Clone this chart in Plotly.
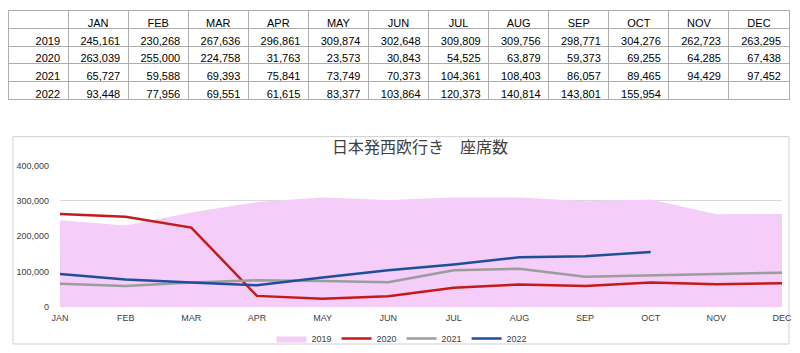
import plotly.graph_objects as go

months = ["JAN", "FEB", "MAR", "APR", "MAY", "JUN", "JUL", "AUG", "SEP", "OCT", "NOV", "DEC"]
years = ["2019", "2020", "2021", "2022"]
s2019 = [245161, 230268, 267636, 296861, 309874, 302648, 309809, 309756, 298771, 304276, 262723, 263295]
s2020 = [263039, 255000, 224758, 31763, 23573, 30843, 54525, 63879, 59373, 69255, 64285, 67438]
s2021 = [65727, 59588, 69393, 75841, 73749, 70373, 104361, 108403, 86057, 89465, 94429, 97452]
s2022 = [93448, 77956, 69551, 61615, 83377, 103864, 120373, 140814, 143801, 155954, None, None]
title_text = "日本発西欧行き　座席数"

series = [s2019, s2020, s2021, s2022]

W, H = 800, 353


def px_x(x):
    return x / W


def px_y(y):
    return 1 - y / H


fmt = lambda v: "" if v is None else f"{v:,}"
cell_cols = [years] + [[fmt(s[i]) for s in series] for i in range(len(months))]

fig = go.Figure()

fig.add_trace(go.Table(
    domain=dict(x=[px_x(8), px_x(789)], y=[px_y(102), px_y(10.5)]),
    columnwidth=[1] * 13,
    header=dict(values=[""] + months, height=17.8, align="center",
                fill_color="white", line=dict(color="#ADADAD", width=1),
                font=dict(family="Liberation Sans", size=11, color="#000000")),
    cells=dict(values=cell_cols, height=17.8, align="right",
               fill_color="white", line=dict(color="#ADADAD", width=1),
               font=dict(family="Liberation Sans", size=11, color="#000000")),
))

fig.add_trace(go.Scatter(x=months, y=s2019, name="2019", mode="lines",
                         fill="tozeroy", fillcolor="#F4CDF8",
                         line=dict(width=0, color="#F4CDF8")))
fig.add_trace(go.Scatter(x=months, y=s2020, name="2020", mode="lines",
                         line=dict(width=2.5, color="#C41A1A")))
fig.add_trace(go.Scatter(x=months, y=s2021, name="2021", mode="lines",
                         line=dict(width=2.5, color="#9C9C9C")))
fig.add_trace(go.Scatter(x=months, y=s2022, name="2022", mode="lines",
                         line=dict(width=2.5, color="#1F4E9A")))

fig.update_layout(
    width=W, height=H,
    margin=dict(l=0, r=0, t=0, b=0),
    paper_bgcolor="white", plot_bgcolor="rgba(0,0,0,0)",
    font=dict(family="Liberation Sans", size=9, color="#404040"),
    title=dict(text=title_text, x=px_x(420), y=px_y(147), xanchor="center", yanchor="middle",
               xref="paper", yref="container",
               font=dict(family="Noto Sans CJK JP", size=16, color="#404040")),
    xaxis=dict(domain=[px_x(60), px_x(782)], range=[0, 11], type="category",
               showgrid=False, zeroline=False, showline=False, ticks="",
               tickfont=dict(size=9, color="#404040"), ticklabelstandoff=4,
               automargin=False),
    yaxis=dict(domain=[px_y(308), px_y(166)], range=[0, 400000],
               tickvals=[0, 100000, 200000, 300000, 400000], tickformat=",",
               showgrid=True, gridcolor="#D9D9D9", gridwidth=1,
               zeroline=False, showline=False, ticks="",
               tickfont=dict(size=9, color="#404040"), ticklabelstandoff=10,
               automargin=False),
    legend=dict(orientation="h", x=px_x(402), xanchor="center", y=px_y(339), yanchor="middle",
                font=dict(size=9, color="#404040"), itemwidth=30,
                bgcolor="rgba(0,0,0,0)", traceorder="normal"),
    showlegend=True,
    shapes=[dict(type="rect", xref="paper", yref="paper",
                 x0=px_x(13), x1=px_x(789), y0=px_y(345), y1=px_y(137),
                 line=dict(color="#D0D0D0", width=1), layer="below")],
)

fig.write_html("out.html")
